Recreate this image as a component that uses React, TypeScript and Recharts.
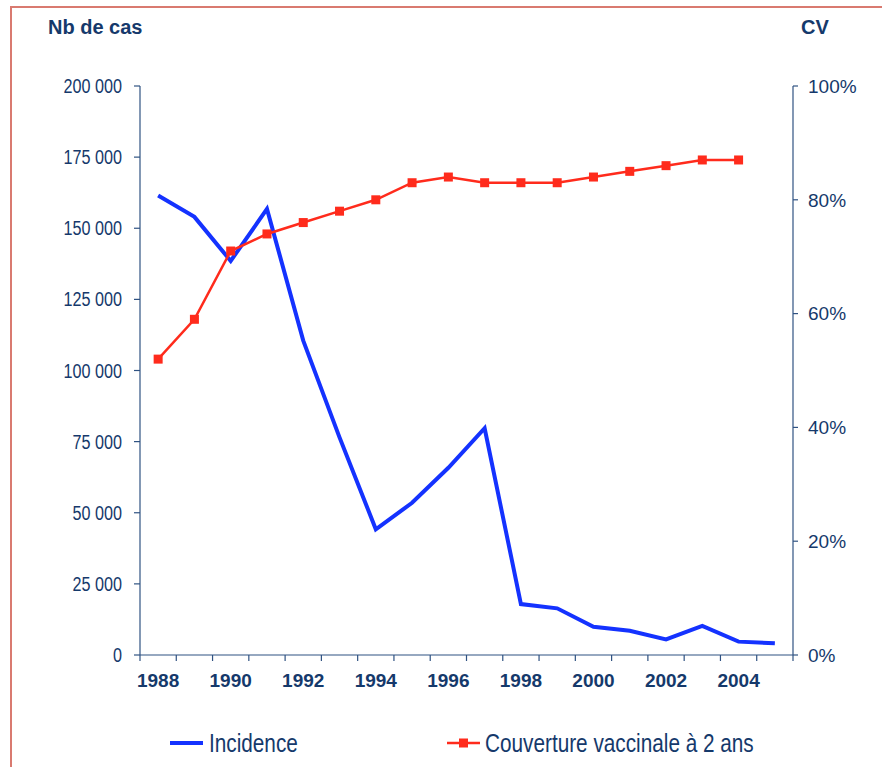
import { LineChart, Line, XAxis, YAxis, Legend } from 'recharts'

const years = [
  '1988', '1989', '1990', '1991', '1992', '1993', '1994', '1995', '1996',
  '1997', '1998', '1999', '2000', '2001', '2002', '2003', '2004', '2005',
]
const incidence = [
  161500, 154000, 138500, 156800, 110500, 76500, 44200, 53500, 65800,
  79700, 17900, 16400, 9900, 8500, 5500, 10200, 4700, 4100,
]
const couverture: (number | null)[] = [
  52, 59, 71, 74, 76, 78, 80, 83, 84, 83, 83, 83, 84, 85, 86, 87, 87, null,
]
const casTicks = [0, 25000, 50000, 75000, 100000, 125000, 150000, 175000, 200000]
const cvTicks = [0, 20, 40, 60, 80, 100]

const data = years.map((year, i) => ({
  year,
  incidence: incidence[i],
  couverture: couverture[i],
}))

const NAVY = '#15396b'
const AXIS = '#2f5282'
const BLUE = '#1432ff'
const RED = '#ff2b1c'
const SANS = "'Liberation Sans', Arial, sans-serif"
// no Arial Narrow offline: squeeze Liberation Sans instead
const NARROW_SCALE = 0.83

const PLOT_LEFT = 140
const PLOT_RIGHT = 793
const BAND = (PLOT_RIGHT - PLOT_LEFT) / years.length

const fmtCas = (v: number) => v.toString().replace(/\B(?=(\d{3})+(?!\d))/g, ' ')

function YearTick(props: any) {
  const { x, y, payload, index } = props
  const edge = x - BAND / 2
  return (
    <g>
      <line x1={edge} x2={edge} y1={y} y2={y + 6} stroke={AXIS} strokeWidth={1.2} />
      {index === years.length - 1 && (
        <line x1={x + BAND / 2} x2={x + BAND / 2} y1={y} y2={y + 6} stroke={AXIS} strokeWidth={1.2} />
      )}
      {index % 2 === 0 && (
        <text x={x} y={y + 32} textAnchor="middle" fill={NAVY} fontFamily={SANS} fontWeight="bold" fontSize={19}>
          {payload.value}
        </text>
      )}
    </g>
  )
}

function CasTick(props: any) {
  const { x, y, payload } = props
  return (
    <text
      transform={`translate(${x},${y}) scale(${NARROW_SCALE},1)`}
      dy="0.36em"
      textAnchor="end"
      fill={NAVY}
      fontFamily={SANS}
      fontSize={19.5}
    >
      {fmtCas(payload.value)}
    </text>
  )
}

function SquareDot(props: any) {
  const { cx, cy } = props
  if (cx == null || cy == null) return null
  return <rect x={cx - 4.5} y={cy - 4.5} width={9} height={9} fill={RED} />
}

function ChartLegend() {
  const text = {
    position: 'absolute' as const,
    top: 4,
    fontFamily: SANS,
    fontSize: 25,
    color: NAVY,
    lineHeight: '28px',
    whiteSpace: 'nowrap' as const,
    transform: `scaleX(${NARROW_SCALE})`,
    transformOrigin: 'left center',
  }
  return (
    <div style={{ position: 'relative', height: 36, width: 882 }}>
      <svg style={{ position: 'absolute', left: 0, top: 0 }} width={882} height={36}>
        <line x1={170} x2={203} y1={18} y2={18} stroke={BLUE} strokeWidth={4} />
        <line x1={447} x2={480} y1={18} y2={18} stroke={RED} strokeWidth={2.5} />
        <rect x={459} y={13.5} width={9} height={9} fill={RED} />
      </svg>
      <span style={{ ...text, left: 209 }}>Incidence</span>
      <span style={{ ...text, left: 485 }}>Couverture vaccinale à 2 ans</span>
    </div>
  )
}

export default function App() {
  return (
    <div style={{ position: 'absolute', left: 0, top: 0, width: 882, height: 767, background: '#fff', overflow: 'hidden' }}>
      <div
        style={{
          position: 'absolute', left: 10, top: 6, width: 900, height: 800,
          borderLeft: '2px solid #d97a70', borderTop: '2px solid #d97a70',
        }}
      />
      <div style={{ position: 'absolute', left: 48, top: 16, fontFamily: SANS, fontWeight: 'bold', fontSize: 20, color: NAVY }}>
        Nb de cas
      </div>
      <div style={{ position: 'absolute', left: 801, top: 16, fontFamily: SANS, fontWeight: 'bold', fontSize: 20, color: NAVY }}>
        CV
      </div>
      <LineChart
        width={882}
        height={767}
        data={data}
        margin={{ top: 86, left: 40, right: 9, bottom: 36 }}
      >
        <XAxis
          dataKey="year"
          type="category"
          interval={0}
          height={40}
          padding={{ left: BAND / 2, right: BAND / 2 }}
          tickLine={false}
          tickSize={0}
          tickMargin={0}
          axisLine={{ stroke: AXIS, strokeWidth: 1.2 }}
          tick={<YearTick />}
        />
        <YAxis
          yAxisId="cas"
          width={100}
          domain={[0, 200000]}
          ticks={casTicks}
          tickSize={6}
          tickMargin={12}
          axisLine={{ stroke: AXIS, strokeWidth: 1.2 }}
          tickLine={{ stroke: AXIS, strokeWidth: 1.2 }}
          tick={<CasTick />}
        />
        <YAxis
          yAxisId="cv"
          orientation="right"
          width={80}
          domain={[0, 100]}
          ticks={cvTicks}
          tickFormatter={(v: number) => `${v}%`}
          tickSize={5}
          tickMargin={10}
          axisLine={{ stroke: AXIS, strokeWidth: 1.2 }}
          tickLine={{ stroke: AXIS, strokeWidth: 1.2 }}
          tick={{ fill: NAVY, fontSize: 19, fontFamily: SANS, textAnchor: 'start' }}
        />
        <Legend
          verticalAlign="bottom"
          content={() => <ChartLegend />}
          wrapperStyle={{ left: 0, bottom: 6, width: 882 }}
        />
        <Line
          yAxisId="cas"
          dataKey="incidence"
          type="linear"
          stroke={BLUE}
          strokeWidth={4}
          dot={false}
          isAnimationActive={false}
        />
        <Line
          yAxisId="cv"
          dataKey="couverture"
          type="linear"
          stroke={RED}
          strokeWidth={2.5}
          dot={<SquareDot />}
          activeDot={false}
          isAnimationActive={false}
        />
      </LineChart>
    </div>
  )
}
